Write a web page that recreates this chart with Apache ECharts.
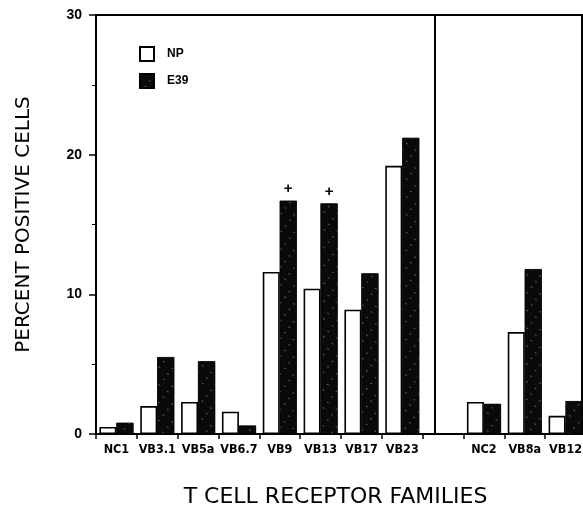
<!DOCTYPE html>
<html>
<head>
<meta charset="utf-8">
<style>
  html, body { margin: 0; padding: 0; background: #fff; }
  #chart { width: 583px; height: 505px; }
</style>
<script src="https://cdn.jsdelivr.net/npm/echarts@6/dist/echarts.min.js"></script>
</head>
<body>
<div id="chart"></div>
<script>
// T cell receptor families; the empty entry is the gap between the two panels
const categories = ['NC1', 'VB3.1', 'VB5a', 'VB6.7', 'VB9', 'VB13', 'VB17', 'VB23', '', 'NC2', 'VB8a', 'VB12'];
// Percent positive cells
const npValues  = [0.5, 2.0, 2.3, 1.6, 11.6, 10.4, 8.9, 19.2, null, 2.3, 7.3, 1.3];
const e39Values = [0.8, 5.5, 5.2, 0.6, 16.7, 16.5, 11.5, 21.2, null, 2.15, 11.8, 2.35];
// Significance marks drawn above the E39 bars
const e39Marks  = ['', '', '', '', '+', '+', '', '', '', '', '', ''];
const yTicks = [0, 10, 20, 30];

const font = "'Liberation Sans', Arial, sans-serif";
const titleFont = "'DejaVu Sans', 'Liberation Sans', sans-serif";
const narrow = "'Liberation Sans Narrow', 'DejaVu Sans Condensed', 'Liberation Sans', sans-serif";
const gapIndex = categories.indexOf('');

const chart = echarts.init(document.getElementById('chart'), null, { renderer: 'canvas' });
chart.setOption({
  animation: false,
  backgroundColor: '#fff',
  grid: {
    left: 96, right: -3, top: 15, bottom: 71,
    outerBoundsMode: 'none',
    containLabel: false,
    show: true, borderColor: '#000', borderWidth: 2, backgroundColor: 'transparent'
  },
  legend: {
    orient: 'vertical',
    left: 134, top: 41,
    icon: 'rect',
    itemWidth: 14, itemHeight: 14, itemGap: 11,
    data: ['NP', 'E39'],
    textStyle: { fontFamily: font, fontWeight: 'bold', fontSize: 12, color: '#000', padding: [0, 0, 0, 8] }
  },
  xAxis: {
    type: 'category',
    data: categories,
    boundaryGap: true,
    axisLine: { lineStyle: { color: '#000', width: 2 } },
    axisTick: { show: true, length: 5, lineStyle: { color: '#000', width: 1.5 } },
    axisLabel: { color: '#000', fontFamily: narrow, fontWeight: 'bold', fontSize: 12.5, margin: 9, interval: 0 },
    name: 'T CELL RECEPTOR FAMILIES',
    nameLocation: 'middle',
    nameGap: 52,
    nameTextStyle: { fontFamily: titleFont, fontSize: 22, color: '#000', padding: [0, 11, 0, 0] },
    splitLine: { show: false }
  },
  yAxis: [{
    type: 'value',
    min: yTicks[0], max: yTicks[yTicks.length - 1], interval: 10,
    axisLine: { show: true, lineStyle: { color: '#000', width: 2 } },
    axisTick: { show: true, length: 7, lineStyle: { color: '#000', width: 1.5 } },
    minorTick: { show: true, splitNumber: 2, length: 4, lineStyle: { color: '#000', width: 1 } },
    axisLabel: { color: '#000', fontFamily: font, fontWeight: 'bold', fontSize: 14, margin: 14 },
    splitLine: { show: false },
    name: 'PERCENT POSITIVE CELLS',
    nameLocation: 'middle',
    nameGap: 62,
    nameTextStyle: { fontFamily: titleFont, fontSize: 20, color: '#000' }
  }, {
    // right-hand frame edge
    type: 'value',
    position: 'right',
    offset: -4,
    min: yTicks[0], max: yTicks[yTicks.length - 1],
    axisLine: { show: true, lineStyle: { color: '#000', width: 2 } },
    axisTick: { show: false },
    axisLabel: { show: false },
    splitLine: { show: false }
  }],
  series: [{
    name: 'NP',
    type: 'bar',
    data: npValues,
    barWidth: 17,
    barGap: '0%',
    itemStyle: { color: '#fff', borderColor: '#000', borderWidth: 1.6 },
    markLine: {
      silent: true,
      symbol: 'none',
      label: { show: false },
      lineStyle: { color: '#000', width: 2, type: 'solid' },
      data: [{ xAxis: gapIndex }]
    }
  }, {
    name: 'E39',
    type: 'bar',
    data: e39Values,
    barWidth: 17,
    itemStyle: {
      color: '#0a0a0a',
      borderColor: '#000',
      borderWidth: 0.5,
      decal: {
        symbol: 'rect',
        symbolSize: 0.8,
        color: 'rgba(255,255,255,0.55)',
        backgroundColor: '#0a0a0a',
        dashArrayX: [1, 6],
        dashArrayY: [2, 9],
        rotation: -0.9
      }
    },
    label: {
      show: true,
      position: 'top',
      distance: 4,
      formatter: p => e39Marks[p.dataIndex],
      fontFamily: font, fontWeight: 'bold', fontSize: 15, color: '#000'
    }
  }]
});
</script>
</body>
</html>
